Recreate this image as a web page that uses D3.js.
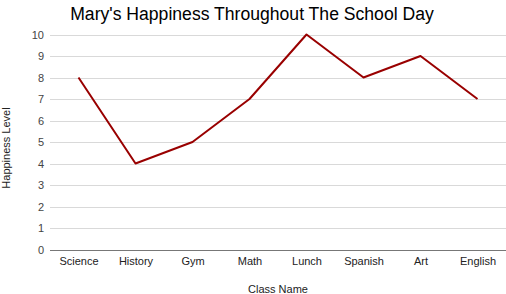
<!DOCTYPE html>
<html><head><meta charset="utf-8">
<script src="https://cdn.jsdelivr.net/npm/d3@7"></script>
<style>body{margin:0;background:#fff}svg{display:block}text{font-family:"Liberation Sans",Arial,sans-serif}</style>
</head><body><svg id="c" width="506" height="294"></svg>
<script>
const categories = ["Science","History","Gym","Math","Lunch","Spanish","Art","English"];
const happiness = [8,4,5,7,10,8,9,7];
const yTicks = [0,1,2,3,4,5,6,7,8,9,10];
const title = "Mary's Happiness Throughout The School Day";
const xTitle = "Class Name";
const yTitle = "Happiness Level";

const svg = d3.select("#c");
const W = 506, H = 294;
const m = {l:50, r:0, t:34.5, b:44.5};
const x = d3.scalePoint().domain(categories).range([m.l, W - m.r]).padding(0.5);
const y = d3.scaleLinear().domain([0,10]).range([H - m.b, m.t]);

svg.append("rect").attr("width",W).attr("height",H).attr("fill","#fff");

// gridlines
svg.append("g").selectAll("line").data(yTicks.filter(d=>d>0)).join("line")
  .attr("x1", m.l).attr("x2", W).attr("y1", d=>Math.round(y(d))+0.5).attr("y2", d=>Math.round(y(d))+0.5)
  .attr("stroke","#d9d9d9").attr("stroke-width",1);

// y axis labels
const ya = svg.append("g").attr("transform",`translate(${m.l},0)`)
  .call(d3.axisLeft(y).tickValues(yTicks).tickSize(0).tickPadding(6).tickFormat(d3.format("d")));
ya.select(".domain").remove();
ya.selectAll("text").attr("font-size",11).attr("fill","#444").attr("font-family","Liberation Sans, Arial, sans-serif");

// baseline
svg.append("line").attr("x1",m.l).attr("x2",W).attr("y1",Math.round(y(0))+0.5).attr("y2",Math.round(y(0))+0.5)
  .attr("stroke","#777").attr("stroke-width",1.2);

// x axis
const xa = svg.append("g").attr("transform",`translate(0,${y(0)})`)
  .call(d3.axisBottom(x).tickSize(0).tickPadding(8));
xa.select(".domain").remove();
xa.selectAll("text").attr("font-size",11).attr("fill","#222").attr("font-family","Liberation Sans, Arial, sans-serif");

// line
svg.append("path").datum(happiness)
  .attr("fill","none").attr("stroke","#990000").attr("stroke-width",2).attr("stroke-linejoin","round")
  .attr("d", d3.line().x((d,i)=>x(categories[i])).y(d=>y(d)));

// titles
svg.append("text").attr("x",252).attr("y",20).attr("text-anchor","middle").attr("font-size",17.6).attr("fill","#000").text(title);
svg.append("text").attr("x",278).attr("y",293).attr("text-anchor","middle").attr("font-size",11).attr("fill","#222").text(xTitle);
svg.append("text").attr("transform","translate(9.5,148) rotate(-90)").attr("text-anchor","middle").attr("font-size",11).attr("fill","#222").text(yTitle);
</script></body></html>
